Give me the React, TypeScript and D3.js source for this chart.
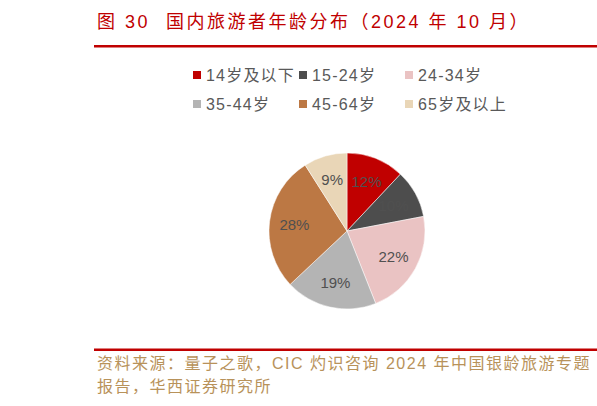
import React from "react";
import * as d3 from "d3";

const categories = ["14岁及以下", "15-24岁", "24-34岁", "35-44岁", "45-64岁", "65岁及以上"];
const values = [12, 10, 22, 19, 28, 9];
const colors = ["#C00000", "#4D4D4D", "#EAC3C3", "#B4B4B4", "#BC7844", "#E9D6B7"];
const titleNum = "图 30";
const titleText = "国内旅游者年龄分布（2024 年 10 月）";
const sourceLines = ["资料来源：量子之歌，CIC 灼识咨询 2024 年中国银龄旅游专题", "报告，华西证券研究所"];

const W = 597;
const H = 406;
const cx = 347;
const cy = 231;
const R = 78;
const FONT = "'Liberation Sans', 'Noto Sans CJK SC', sans-serif";

export default function App() {
  const pie = d3.pie<number>().value((d) => d).sort(null)(values);
  const arc = d3.arc<d3.PieArcDatum<number>>().innerRadius(0).outerRadius(R);
  const labelArc = d3.arc<d3.PieArcDatum<number>>().innerRadius(R * 0.68).outerRadius(R * 0.68);
  const legendX = d3.scalePoint<number>().domain([0, 1, 2]).range([193, 405]);
  const legendY = d3.scalePoint<number>().domain([0, 1]).range([75, 104]);

  return (
    <svg width={W} height={H} style={{ position: "absolute", left: 0, top: 0, background: "#fff" }}>
      <text y={28} fill="#C00000" fontSize={18} fontFamily={FONT} letterSpacing={2.5}>
        <tspan x={97}>{titleNum}</tspan>
        <tspan x={166}>{titleText}</tspan>
      </text>
      <rect x={94} y={45} width={503} height={2.5} fill="#C00000" />

      {categories.map((c, i) => {
        const x = legendX(i % 3)!;
        const y = legendY(Math.floor(i / 3))!;
        return (
          <g key={c}>
            <rect x={x} y={y - 4} width={8} height={8} fill={colors[i]} />
            <text x={x + 13} y={y} dy="0.35em" fontSize={16} letterSpacing={1.2} fill="#595959" fontFamily={FONT}>
              {c}
            </text>
          </g>
        );
      })}

      <g transform={`translate(${cx},${cy})`}>
        {pie.map((p, i) => (
          <path key={i} d={arc(p)!} fill={colors[i]} stroke="#fff" strokeWidth={0.5} />
        ))}
        {pie.map((p, i) => {
          const [lx, ly] = labelArc.centroid(p);
          return (
            <text
              key={"l" + i}
              x={lx}
              y={ly}
              dy="0.35em"
              textAnchor="middle"
              fontSize={15}
              fill="#505050"
              fontFamily={FONT}
            >
              {p.data}%
            </text>
          );
        })}
      </g>

      <rect x={94} y={348.5} width={503} height={2.5} fill="#C00000" />
      {sourceLines.map((s, i) => (
        <text key={i} x={97} y={363 + i * 23} dy="0.35em" fontSize={16} letterSpacing={1.5} fill="#B8925A" fontFamily={FONT}>
          {s}
        </text>
      ))}
    </svg>
  );
}
